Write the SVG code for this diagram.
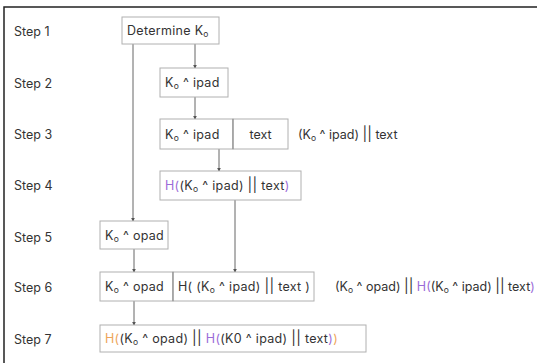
<svg xmlns="http://www.w3.org/2000/svg" width="539" height="363" viewBox="0 0 539 363">
<style>
text{font-family:Inter,"Noto Sans","Liberation Sans",sans-serif;font-size:12.5px;fill:#333;}
.bt{letter-spacing:0.3px;}
.box{fill:#fff;stroke:#b0b0b0;stroke-width:1;}
.div{stroke:#888;stroke-width:1;}
.con{stroke:#666;stroke-width:1;fill:none;marker-end:url(#ah);}
.p{fill:#9b6bd8;}
.o{fill:#eea55a;}
.s{font-size:8.5px;}
.bar{font-size:14px;}
</style>
<defs>
<marker id="ah" viewBox="0 0 6 6" refX="5" refY="3" markerWidth="4" markerHeight="4" orient="auto" markerUnits="userSpaceOnUse">
<path d="M0,0 L6,3 L0,6 z" fill="#555"/>
</marker>
</defs>
<rect width="539" height="363" fill="#fff"/>
<path d="M4,363 L4,7 L537,7" fill="none" stroke="#222" stroke-width="1.5"/>
<g id="labels">
<text x="14" y="36">Step 1</text>
<text x="14" y="88">Step 2</text>
<text x="14" y="139">Step 3</text>
<text x="14" y="190">Step 4</text>
<text x="14" y="242">Step 5</text>
<text x="14" y="292">Step 6</text>
<text x="14" y="344">Step 7</text>
</g>
<g id="connectors">
<line class="con" x1="133" y1="44" x2="133" y2="221"/>
<line class="con" x1="195" y1="44" x2="195" y2="68"/>
<line class="con" x1="195" y1="97" x2="195" y2="119"/>
<line class="con" x1="219" y1="149" x2="219" y2="171"/>
<line class="con" x1="235" y1="200" x2="235" y2="272"/>
<line class="con" x1="134" y1="249" x2="134" y2="272"/>
<line class="con" x1="134" y1="301" x2="134" y2="325"/>
</g>
<g id="n1">
<rect class="box" x="122" y="17" width="97" height="27"/>
<text class="bt" x="127" y="35">Determine K<tspan class="s" dy="2">o</tspan></text>
</g>
<g id="n2">
<rect class="box" x="160" y="68" width="68" height="29"/>
<text class="bt" x="165" y="87">K<tspan class="s" dy="2">o</tspan><tspan dy="-2"> ^ ipad</tspan></text>
</g>
<g id="n3a">
<rect class="box" x="160" y="119" width="73" height="30"/>
<text class="bt" x="165" y="138.5">K<tspan class="s" dy="2">o</tspan><tspan dy="-2"> ^ ipad</tspan></text>
</g>
<g id="n3b">
<rect class="box" x="233" y="119" width="55" height="30"/>
<line class="div" x1="233" y1="119" x2="233" y2="149"/>
<text x="260.5" y="138.5" text-anchor="middle">text</text>
</g>
<g id="t3">
<text x="298" y="138.5">(K<tspan class="s" dy="2">o</tspan><tspan dy="-2"> ^ ipad) </tspan><tspan class="bar">||</tspan> text</text>
</g>
<g id="n4">
<rect class="box" x="160" y="171" width="141" height="29"/>
<text class="bt" x="165" y="190"><tspan class="p">H(</tspan>(K<tspan class="s" dy="2">o</tspan><tspan dy="-2"> ^ ipad) </tspan><tspan class="bar">||</tspan> text<tspan class="p">)</tspan></text>
</g>
<g id="n5">
<rect class="box" x="100" y="221" width="68" height="28"/>
<text class="bt" x="105" y="239.5">K<tspan class="s" dy="2">o</tspan><tspan dy="-2"> ^ opad</tspan></text>
</g>
<g id="n6a">
<rect class="box" x="100" y="272" width="73" height="29"/>
<text class="bt" x="105" y="291">K<tspan class="s" dy="2">o</tspan><tspan dy="-2"> ^ opad</tspan></text>
</g>
<g id="n6b">
<rect class="box" x="173" y="272" width="141" height="29"/>
<line class="div" x1="173" y1="272" x2="173" y2="301"/>
<text class="bt" x="178" y="291">H( (K<tspan class="s" dy="2">o</tspan><tspan dy="-2"> ^ ipad) </tspan><tspan class="bar">||</tspan> text )</text>
</g>
<g id="t6">
<text x="335" y="291">(K<tspan class="s" dy="2">o</tspan><tspan dy="-2"> ^ opad) </tspan><tspan class="bar">||</tspan> <tspan class="p">H(</tspan>(K<tspan class="s" dy="2">o</tspan><tspan dy="-2"> ^ ipad) </tspan><tspan class="bar">||</tspan> text<tspan class="p">)</tspan></text>
</g>
<g id="n7">
<rect class="box" x="100" y="325" width="266" height="27"/>
<text class="bt" x="105" y="343"><tspan class="o">H(</tspan>(K<tspan class="s" dy="2">o</tspan><tspan dy="-2"> ^ opad) </tspan><tspan class="bar">||</tspan> <tspan class="p">H(</tspan>(K0 ^ ipad) <tspan class="bar">||</tspan> text<tspan class="p">)</tspan><tspan class="o">)</tspan></text>
</g>
</svg>
